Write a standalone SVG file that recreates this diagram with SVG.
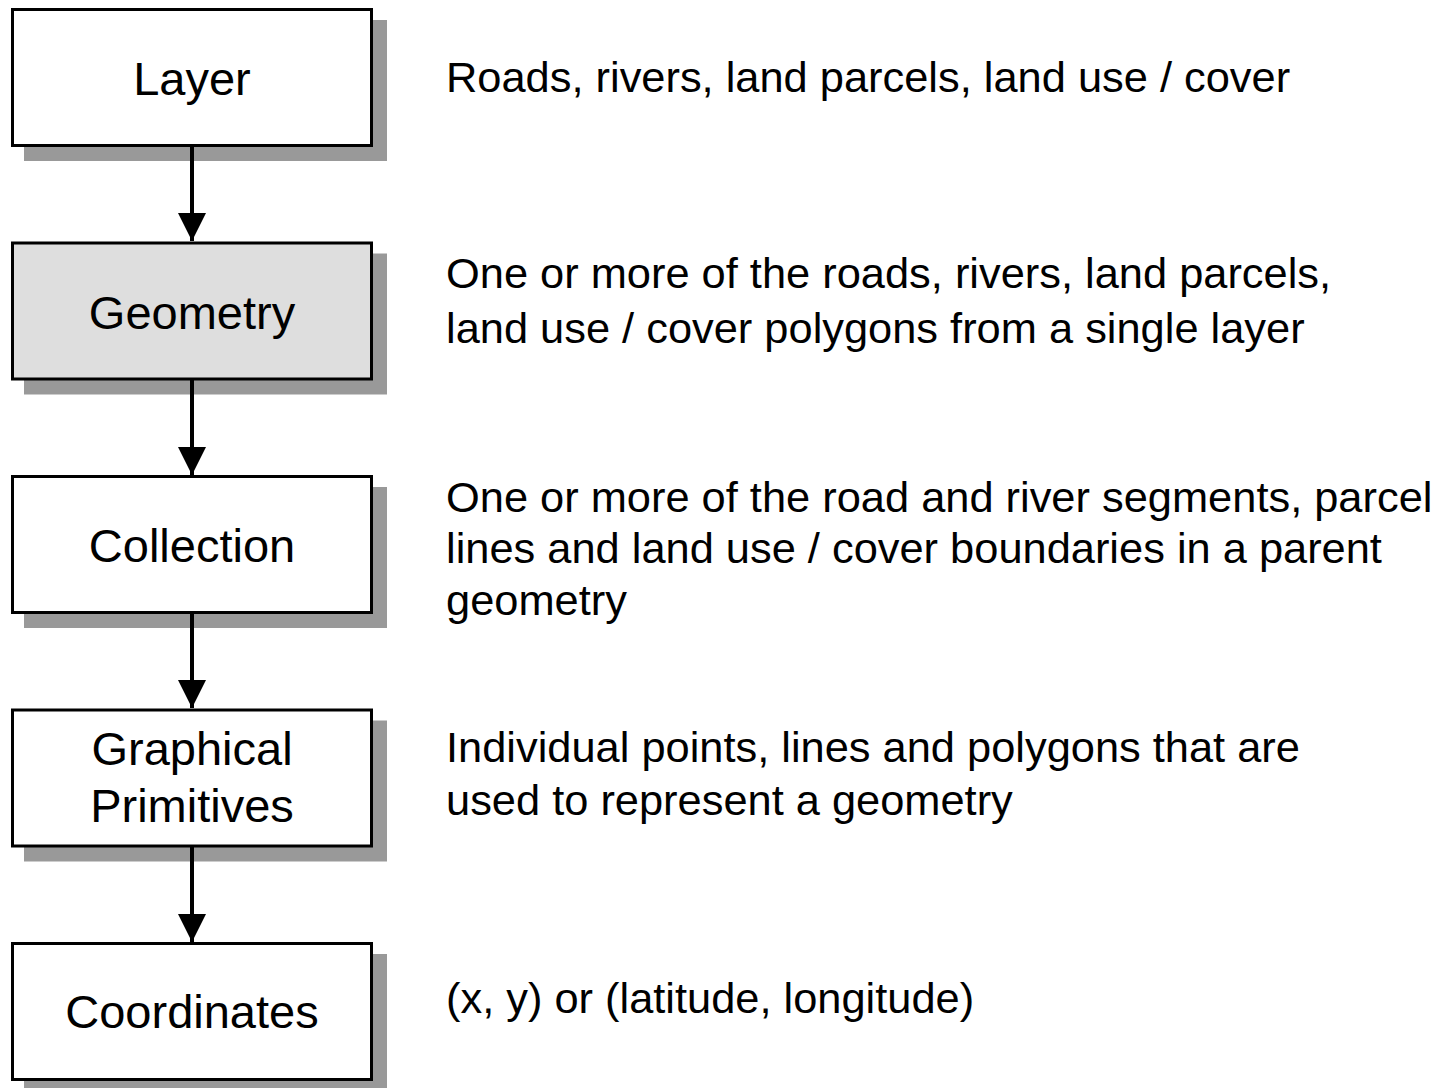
<svg xmlns="http://www.w3.org/2000/svg" width="1435" height="1088" viewBox="0 0 1435 1088">
<style>
.shadow{fill:#999999}
.box{fill:#ffffff;stroke:#000000;stroke-width:3}
.grey{fill:#dedede}
.lbl{font-family:"Liberation Sans",Arial,sans-serif;font-size:47px;fill:#000;text-anchor:middle}
.desc{font-family:"Liberation Sans",Arial,sans-serif;font-size:43.4px;fill:#000}
.conn{stroke:#000;stroke-width:4;fill:none}
</style>
<defs>
<marker id="ah" markerUnits="userSpaceOnUse" markerWidth="30" markerHeight="30" refX="28" refY="15" orient="auto">
<path d="M0,1 L28,15 L0,29 Z" fill="#000"/>
</marker>
</defs>
<rect width="1435" height="1088" fill="#ffffff"/>
<g id="node-layer">
<rect class="shadow" x="24" y="20" width="363" height="141"/>
<rect class="box" x="12.5" y="9.5" width="359" height="136"/>
<text class="lbl" x="192" y="95">Layer</text>
</g>
<g id="node-geometry">
<rect class="shadow" x="24" y="253.5" width="363" height="141"/>
<rect class="box grey" x="12.5" y="243" width="359" height="136"/>
<text class="lbl" x="192" y="329">Geometry</text>
</g>
<g id="node-collection">
<rect class="shadow" x="24" y="487" width="363" height="141"/>
<rect class="box" x="12.5" y="476.5" width="359" height="136"/>
<text class="lbl" x="192" y="562">Collection</text>
</g>
<g id="node-primitives">
<rect class="shadow" x="24" y="720.5" width="363" height="141"/>
<rect class="box" x="12.5" y="710" width="359" height="136"/>
<text class="lbl" x="192" y="765">Graphical</text>
<text class="lbl" x="192" y="822">Primitives</text>
</g>
<g id="node-coordinates">
<rect class="shadow" x="24" y="954" width="363" height="141"/>
<rect class="box" x="12.5" y="943.5" width="359" height="136"/>
<text class="lbl" x="192" y="1028">Coordinates</text>
</g>
<g id="connectors">
<line class="conn" x1="192" y1="147" x2="192" y2="241" marker-end="url(#ah)"/>
<line class="conn" x1="192" y1="380" x2="192" y2="475" marker-end="url(#ah)"/>
<line class="conn" x1="192" y1="614" x2="192" y2="708" marker-end="url(#ah)"/>
<line class="conn" x1="192" y1="847" x2="192" y2="942" marker-end="url(#ah)"/>
</g>
<g id="descriptions">
<text class="desc" x="446" y="92">Roads, rivers, land parcels, land use / cover</text>
<text class="desc" x="446" y="288">One or more of the roads, rivers, land parcels,</text>
<text class="desc" x="446" y="343">land use / cover polygons from a single layer</text>
<text class="desc" x="446" y="512">One or more of the road and river segments, parcel</text>
<text class="desc" x="446" y="563">lines and land use / cover boundaries in a parent</text>
<text class="desc" x="446" y="615">geometry</text>
<text class="desc" x="446" y="762">Individual points, lines and polygons that are</text>
<text class="desc" x="446" y="815">used to represent a geometry</text>
<text class="desc" x="446" y="1013">(x, y) or (latitude, longitude)</text>
</g>
</svg>
